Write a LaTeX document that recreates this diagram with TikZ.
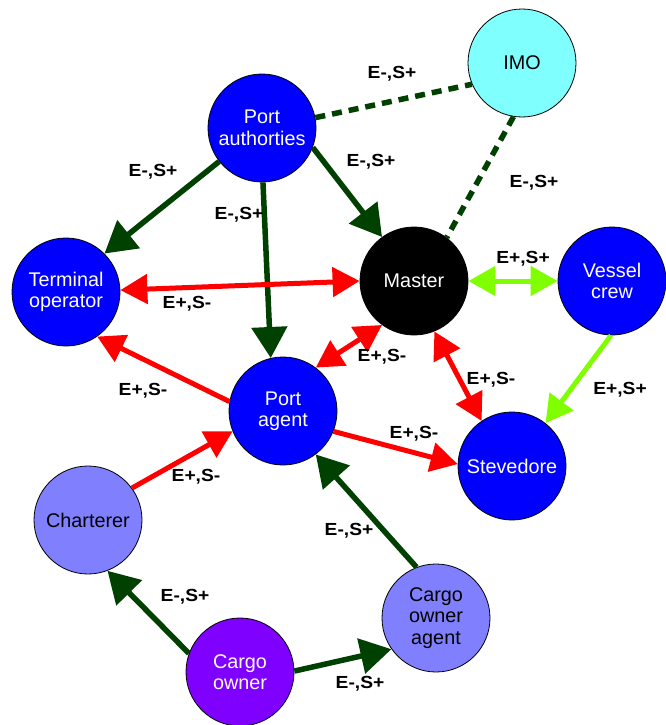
\documentclass[tikz,border=0pt]{standalone}
\usepackage{fontspec}
\setmainfont{Liberation Sans}
\newfontfamily\lblfont[FakeStretch=1.1]{Liberation Sans}
\usetikzlibrary{arrows.meta}
\definecolor{dkgreen}{RGB}{0,64,0}
\definecolor{lime}{RGB}{128,255,0}
\definecolor{imocyan}{RGB}{128,255,255}
\definecolor{lightblue}{RGB}{128,128,255}
\definecolor{purp}{RGB}{128,0,255}
\tikzset{
  actor/.style={circle, draw=black, line width=0.8pt, minimum size=108pt, inner sep=0pt,
    align=center, font=\fontsize{19.8}{21.5}\selectfont},
  bluenode/.style={actor, fill=blue, text=white},
  lbl/.style={font=\lblfont\bfseries\fontsize{17.5}{19}\selectfont, inner sep=0pt},
  greenarr/.style={draw=dkgreen, line width=5.5pt, -{Triangle[length=31pt, width=35pt]}},
  greendash/.style={draw=dkgreen, line width=5.5pt, dash pattern=on 10pt off 7pt},
  redarr/.style={draw=red, line width=5pt, -{Triangle[length=27pt, width=29pt]}},
  redboth/.style={draw=red, line width=5pt, {Triangle[length=27pt, width=29pt]}-{Triangle[length=27pt, width=29pt]}},
  limearr/.style={draw=lime, line width=5pt, -{Triangle[length=27pt, width=29pt]}},
  limeboth/.style={draw=lime, line width=5pt, {Triangle[length=27pt, width=29pt]}-{Triangle[length=27pt, width=29pt]}},
}
\begin{document}
\begin{tikzpicture}[x=1pt, y=-1pt]
\useasboundingbox (0,0) rectangle (665,725);
% nodes
\node[actor, fill=imocyan, text=black] (imo) at (522,63) {IMO};
\node[bluenode] (pauth) at (262,128) {Port\\authorties};
\node[bluenode] (term) at (66,292) {Terminal\\operator};
\node[actor, fill=black, text=white] (master) at (414,281) {Master};
\node[bluenode] (crew) at (612,281) {Vessel\\crew};
\node[bluenode] (pagent) at (283,411) {Port\\agent};
\node[bluenode] (stev) at (512,466) {Stevedore};
\node[actor, fill=lightblue, text=black] (charter) at (88,520) {Charterer};
\node[actor, fill=lightblue, text=black] (coagent) at (436,618) {Cargo\\owner\\agent};
\node[actor, fill=purp, text=white] (cowner) at (240,672) {Cargo\\owner};
% connectors
\draw[greendash] (pauth.11.7) -- (imo.-157);
\draw[greendash] (imo.-99.5) -- (master.53);
\draw[greenarr] (pauth.-142.5) -- (term.45.7);
\draw[greenarr] (pauth.-89) -- (pagent.103);
\draw[greenarr] (pauth.-21.6) -- (master.126);
\draw[redboth] (term.2) -- (master.180);
\draw[limeboth] (master.0) -- (crew.180);
\draw[redarr] (pagent.170) -- (term.-55);
\draw[redboth] (master.-126) -- (pagent.53);
\draw[redboth] (master.-68) -- (stev.124);
\draw[limearr] (crew.-91) -- (stev.52.5);
\draw[redarr] (pagent.-22) -- (stev.178);
\draw[redarr] (charter.36.6) -- (pagent.-158);
\draw[greenarr] (coagent.111) -- (pagent.-53);
\draw[greenarr] (cowner.160) -- (charter.-69);
\draw[greenarr] (cowner.1) -- (coagent.-145);
% labels
\node[lbl] (l1) at (392,74) {E-,S+};
\node[lbl] (l2) at (371,162) {E-,S+};
\node[lbl] (l3) at (534,183) {E-,S+};
\node[lbl] (l4) at (153,172) {E-,S+};
\node[lbl] (l5) at (239,215) {E-,S+};
\node[lbl] (l6) at (187,304) {E+,S-};
\node[lbl] (l7) at (523,259) {E+,S+};
\node[lbl] (l8) at (143,391) {E+,S-};
\node[lbl] (l9) at (382,357) {E+,S-};
\node[lbl] (l10) at (491,380) {E+,S-};
\node[lbl] (l11) at (620,390) {E+,S+};
\node[lbl] (l12) at (414,434) {E+,S-};
\node[lbl] (l13) at (196,477) {E+,S-};
\node[lbl] (l14) at (349,531) {E-,S+};
\node[lbl] (l15) at (185,597) {E-,S+};
\node[lbl] (l16) at (360,684) {E-,S+};
\end{tikzpicture}
\end{document}
